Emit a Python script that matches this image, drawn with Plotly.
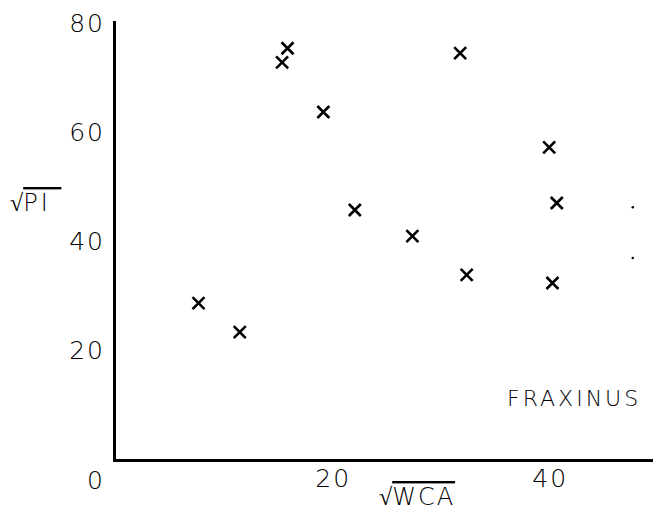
import plotly.graph_objects as go

# sqrt(WCA) vs sqrt(PI) for Fraxinus
wca = [7.6, 11.4, 15.8, 15.3, 19.1, 22.0, 27.3, 31.7, 32.3, 39.9, 40.6, 40.2]
pi = [28.6, 23.3, 75.4, 72.8, 63.7, 45.7, 40.9, 74.5, 33.8, 57.2, 47.0, 32.3]
# two faint dots at the right edge
dot_x = [47.6, 47.6]
dot_y = [46.2, 36.9]

x_ticks = [20, 40]
y_ticks = [20, 40, 60, 80]

FONT = "DejaVu Sans"
LS = "<span style='letter-spacing:2px'>{}</span>"

fig = go.Figure()
fig.add_trace(go.Scatter(
    x=wca, y=pi, mode="markers",
    marker=dict(symbol="x-thin", size=12, color="black",
                line=dict(color="black", width=2.6)),
    showlegend=False, hoverinfo="skip"))
fig.add_trace(go.Scatter(
    x=dot_x, y=dot_y, mode="markers",
    marker=dict(symbol="circle", size=2.5, color="black"),
    showlegend=False, hoverinfo="skip"))

tf = dict(family=FONT, size=25, weight=300, color="black")

fig.update_layout(
    width=653, height=513,
    margin=dict(l=108, r=0, t=13, b=62),
    paper_bgcolor="white", plot_bgcolor="white",
    font=dict(family=FONT, size=22, color="black"),
    xaxis=dict(range=[0, 50.2], tickvals=x_ticks, ticktext=[LS.format(v) for v in x_ticks],
               showgrid=False, zeroline=False, showline=True, linecolor="black",
               linewidth=3, ticks="", ticklabelstandoff=-5, tickfont=tf),
    yaxis=dict(range=[0, 80.4], tickvals=y_ticks, ticktext=[LS.format(v) for v in y_ticks],
               showgrid=False, zeroline=False, showline=True, linecolor="black",
               linewidth=3, ticks="", ticklabelstandoff=3, tickfont=tf),
    annotations=[
        dict(x=0, y=0, xref="x", yref="y", text="0", showarrow=False,
             xshift=-21, yshift=-21, font=tf),
        dict(x=0.552, y=-0.087, xref="paper", yref="paper", xanchor="center", yanchor="middle",
             text="√<span style='text-decoration:overline;letter-spacing:2px'>WCA</span>",
             showarrow=False, font=dict(family=FONT, size=24, weight=300, color="black")),
        dict(x=-0.198, y=0.584, xref="paper", yref="paper", xanchor="left", yanchor="middle",
             text="√<span style='text-decoration:overline;letter-spacing:3px'>PI </span>",
             showarrow=False, font=dict(family=FONT, size=24, weight=300, color="black")),
        dict(x=0.967, y=0.139, xref="paper", yref="paper", xanchor="right", yanchor="middle",
             text="<span style='letter-spacing:3px'>FRAXINUS</span>", showarrow=False,
             font=dict(family=FONT, size=22, weight=300, color="black")),
    ],
)

fig.write_html("out.html")
